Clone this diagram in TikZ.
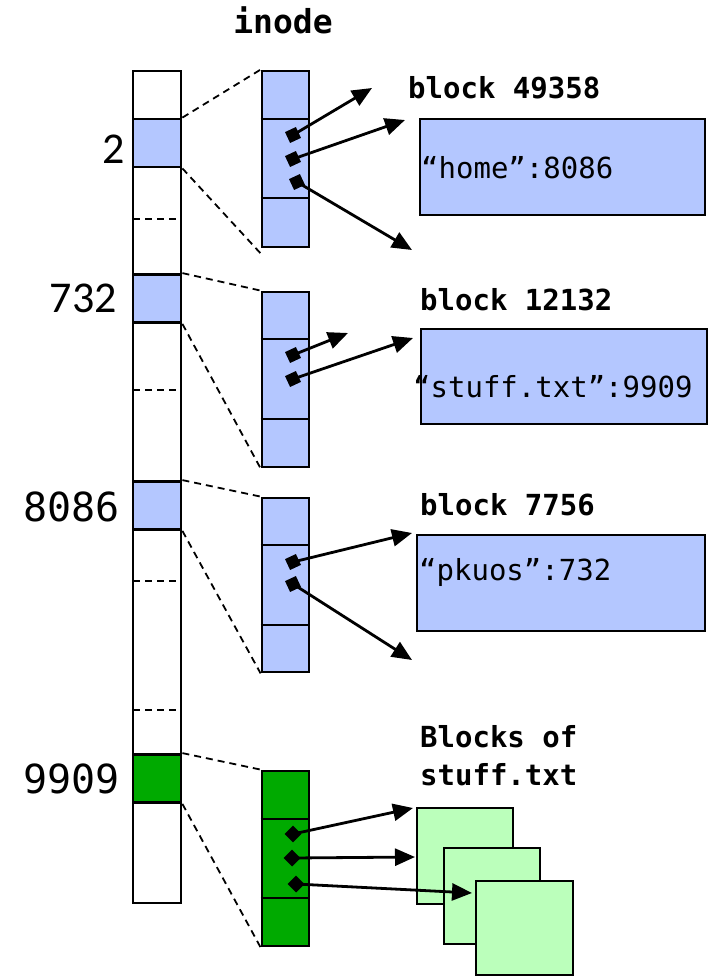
\documentclass[tikz,border=0pt]{standalone}
\usepackage{fontspec}
\setmainfont{DejaVu Sans Mono}
\newfontfamily\calib{Carlito}
\usetikzlibrary{arrows.meta}
\definecolor{blk}{RGB}{180,199,255}
\definecolor{dgreen}{RGB}{0,170,0}
\definecolor{lgreen}{RGB}{187,255,187}
\tikzset{
  box/.style={draw, line width=2.8pt, inner sep=0pt, rectangle},
  cell/.style={box, minimum width=48pt, minimum height=48pt},
  inodebox/.style={box, minimum width=47pt, minimum height=176pt, fill=blk},
  databoxA/.style={box, fill=blk},
  zoomline/.style={line width=1.8pt, dash pattern=on 7pt off 5pt},
  sep/.style={line width=2pt},
  marker/.style={fill=black, rectangle, inner sep=0pt, minimum size=12pt},
  ptr/.style={line width=2.8pt, -{Triangle[length=20pt,width=17pt]}},
  lbl/.style={font=\fontsize{29}{30}\selectfont\bfseries, anchor=base west, inner sep=0pt},
  txt/.style={font=\fontsize{29}{30}\selectfont, anchor=base west, inner sep=0pt},
  num/.style={font=\fontsize{40}{40}\selectfont, anchor=base east, inner sep=0pt},
  numc/.style={font=\calib\fontsize{44}{44}\selectfont, anchor=base east, inner sep=0pt}
}
\begin{document}
\begin{tikzpicture}[x=1pt,y=-1pt]
\useasboundingbox (0,0) rectangle (715,977);

% left column
\node[box, minimum width=48pt, minimum height=832pt, fill=white] (col) at (157,487) {};
\node[cell, fill=blk] (c2) at (157,143) {};
\node[cell, fill=blk] (c732) at (157,298.5) {};
\node[cell, fill=blk] (c8086) at (157,505.5) {};
\node[cell, fill=dgreen] (c9909) at (157,778.5) {};
\coordinate (d1a) at (133,219); \coordinate (d1b) at (181,219);
\coordinate (d2a) at (133,390); \coordinate (d2b) at (181,390);
\coordinate (d3a) at (133,581); \coordinate (d3b) at (181,581);
\coordinate (d4a) at (133,710); \coordinate (d4b) at (181,710);
\draw[zoomline] (d1a) -- (d1b);
\draw[zoomline] (d2a) -- (d2b);
\draw[zoomline] (d3a) -- (d3b);
\draw[zoomline] (d4a) -- (d4b);

\node[numc] (n2) at (125,163) {2};
\node[numc] (n732) at (117,312) {732};
\node[num] (n8086) at (120,521) {8086};
\node[num] (n9909) at (120,793) {9909};

\node[font=\fontsize{33}{33}\selectfont\bfseries, anchor=base, inner sep=0pt] (title) at (283,33) {inode};

% inode boxes
\node[inodebox] (i1) at (285.5,159) {};
\node[inodebox, minimum height=175pt] (i2) at (285.5,379.5) {};
\node[inodebox, minimum height=174pt] (i3) at (285.5,585) {};
\node[inodebox, minimum height=175pt, fill=dgreen] (i4) at (285.5,858.5) {};
\draw[sep] (i1.west |- 0,119) -- (i1.east |- 0,119);
\draw[sep] (i1.west |- 0,198) -- (i1.east |- 0,198);
\draw[sep] (i2.west |- 0,339) -- (i2.east |- 0,339);
\draw[sep] (i2.west |- 0,419) -- (i2.east |- 0,419);
\draw[sep] (i3.west |- 0,545) -- (i3.east |- 0,545);
\draw[sep] (i3.west |- 0,625) -- (i3.east |- 0,625);
\draw[sep] (i4.west |- 0,819) -- (i4.east |- 0,819);
\draw[sep] (i4.west |- 0,898) -- (i4.east |- 0,898);

% zoom lines
\draw[zoomline] (c2.north east) -- (i1.north west);
\draw[zoomline] (c2.south east) -- ([yshift=-5pt]i1.south west);
\draw[zoomline] (c732.north east) -- (i2.north west);
\draw[zoomline] (c732.south east) -- (i2.south west);
\draw[zoomline] (c8086.north east) -- (i3.north west);
\draw[zoomline] (c8086.south east) -- (i3.south west);
\draw[zoomline] (c9909.north east) -- (i4.north west);
\draw[zoomline] (c9909.south east) -- (i4.south west);

% data blocks
\node[lbl] (l1) at (408,98) {block 49358};
\node[databoxA, minimum width=285pt, minimum height=96pt] (b1) at (562.5,167) {};
\node[txt] (t1) at (421,178) {“home”:8086};

\node[lbl] (l2) at (420,310) {block 12132};
\node[databoxA, minimum width=286pt, minimum height=95pt] (b2) at (564,376.5) {};
\node[txt] (t2) at (413,397) {“stuff.txt”:9909};

\node[lbl] (l3) at (420,515) {block 7756};
\node[databoxA, minimum width=288pt, minimum height=96pt] (b3) at (561,583) {};
\node[txt] (t3) at (419,580) {“pkuos”:732};

\node[lbl] (l4a) at (420,747) {Blocks of};
\node[lbl] (l4b) at (420,785) {stuff.txt};
\node[box, fill=lgreen, minimum width=96pt, minimum height=96pt] (g1) at (465,856) {};
\node[box, fill=lgreen, minimum width=96pt, minimum height=96pt] (g2) at (492,896) {};
\node[box, fill=lgreen, minimum width=97pt, minimum height=94pt] (g3) at (524.5,928) {};

% markers and pointers
\node[marker, rotate=25] (m11) at (293,135) {};
\node[marker, rotate=25] (m12) at (293,159) {};
\node[marker, rotate=25] (m13) at (297,182) {};
\coordinate (e11) at (372,88);
\coordinate (e12) at (405,120);
\coordinate (e13) at (412,250);
\draw[ptr] (m11.center) -- (e11);
\draw[ptr] (m12.center) -- (e12);
\draw[ptr] (m13.center) -- (e13);

\node[marker, rotate=25] (m21) at (293,355) {};
\node[marker, rotate=25] (m22) at (293,379) {};
\coordinate (e21) at (348,333);
\coordinate (e22) at (413,338);
\draw[ptr] (m21.center) -- (e21);
\draw[ptr] (m22.center) -- (e22);

\node[marker, rotate=25] (m31) at (293,562) {};
\node[marker, rotate=25] (m32) at (293,584) {};
\coordinate (e31) at (412,533);
\coordinate (e32) at (412,660);
\draw[ptr] (m31.center) -- (e31);
\draw[ptr] (m32.center) -- (e32);

\node[marker, rotate=45] (m41) at (293,834) {};
\node[marker, rotate=45] (m42) at (292,858) {};
\node[marker, rotate=45] (m43) at (296,884) {};
\coordinate (e41) at (413,808);
\coordinate (e42) at (415,857);
\coordinate (e43) at (472,893);
\draw[ptr] (m41.center) -- (e41);
\draw[ptr] (m42.center) -- (e42);
\draw[ptr] (m43.center) -- (e43);
\end{tikzpicture}
\end{document}
